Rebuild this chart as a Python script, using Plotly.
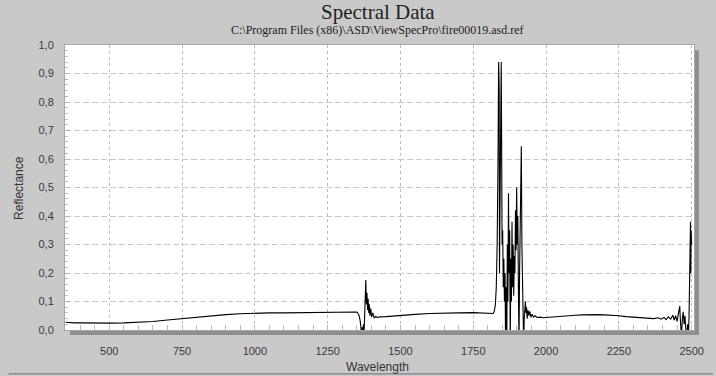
import plotly.graph_objects as go

# ---- data ----
wavelength = [
    350, 360, 380, 400, 450, 500, 550, 600, 650, 700, 750, 800, 850, 900, 950,
    1000, 1050, 1100, 1150, 1200, 1250, 1300, 1340, 1350,
    1352, 1358, 1362, 1365, 1367, 1369, 1371, 1373, 1375, 1377, 1379, 1381,
    1383, 1385, 1387, 1389, 1391, 1393, 1395, 1398, 1401, 1405, 1410, 1415,
    1420, 1430, 1450, 1500, 1550, 1600, 1650, 1700, 1750, 1800, 1815,
    1818, 1822, 1826, 1829, 1832, 1835, 1837, 1839, 1840, 1842, 1844, 1846,
    1847, 1849, 1851, 1853, 1855, 1857, 1859, 1861, 1863, 1865, 1867, 1869,
    1871, 1873, 1875, 1877, 1879, 1881, 1883, 1885, 1887, 1889, 1891, 1893,
    1895, 1897, 1899, 1901, 1903, 1905, 1907, 1909, 1911, 1913, 1915, 1917,
    1919, 1921, 1923, 1925, 1927, 1929, 1931, 1933, 1935, 1938, 1941, 1944,
    1948, 1952, 1957, 1962, 1970, 1980, 1990,
    2000, 2025, 2050, 2075, 2100, 2125, 2150, 2175, 2200, 2225, 2250, 2275,
    2300, 2325, 2350, 2370, 2385, 2395, 2405, 2412, 2420, 2428, 2435, 2440,
    2445, 2450, 2455, 2459, 2462, 2465, 2468, 2471, 2474, 2477, 2480, 2483,
    2486, 2489, 2491, 2493, 2495, 2496, 2497, 2498, 2499, 2500,
]
reflectance = [
    0.027, 0.026, 0.025, 0.025, 0.024, 0.024, 0.025, 0.027, 0.030, 0.035, 0.040,
    0.046, 0.050, 0.054, 0.057, 0.059, 0.060, 0.060, 0.061, 0.062, 0.062, 0.063,
    0.064, 0.063,
    0.062, 0.050, 0.030, 0.000, -0.02, 0.010, -0.02, 0.020, -0.01, 0.050, 0.120,
    0.175, 0.090, 0.130, 0.070, 0.110, 0.060, 0.090, 0.050, 0.075, 0.045, 0.060,
    0.042, 0.048, 0.044, 0.046, 0.047, 0.052, 0.055, 0.058, 0.060, 0.060, 0.061,
    0.060, 0.059,
    0.058, 0.065, 0.090, 0.150, 0.300, 0.600, 0.940, 0.850, 0.200, 0.500, 0.940,
    0.940, 0.750, 0.300, 0.350, 0.150, 0.250, 0.100, 0.200, -0.05, 0.150, -0.05,
    0.300, 0.100, 0.480, 0.200, 0.350, -0.05, 0.250, 0.100, 0.380, 0.150, 0.300,
    0.120, 0.260, 0.200, 0.420, 0.280, 0.500, 0.300, 0.400, 0.150, -0.05, 0.200,
    0.350, 0.500, 0.645, 0.300, 0.150, 0.050, -0.05, 0.040, 0.080, 0.100, 0.060,
    0.080, 0.040, 0.070, 0.050, 0.065, 0.045, 0.055, 0.045, 0.050, 0.044, 0.045,
    0.043,
    0.044, 0.046, 0.048, 0.050, 0.052, 0.053, 0.054, 0.054, 0.053, 0.052, 0.050,
    0.047, 0.045, 0.043, 0.042, 0.040, 0.043, 0.038, 0.044, 0.036, 0.046, 0.038,
    0.052, 0.035, 0.050, 0.030, 0.060, 0.084, 0.020, -0.02, 0.040, 0.064, 0.020,
    0.050, 0.000, -0.03, 0.020, -0.02, 0.050, 0.180, 0.250, 0.380, 0.200, 0.350,
    0.250, 0.300,
]
x_tick_values = [500, 750, 1000, 1250, 1500, 1750, 2000, 2250, 2500]
x_tick_labels = ["500", "750", "1000", "1250", "1500", "1750", "2000", "2250", "2500"]
y_tick_values = [0.0, 0.1, 0.2, 0.3, 0.4, 0.5, 0.6, 0.7, 0.8, 0.9, 1.0]
y_tick_labels = ["0,0", "0,1", "0,2", "0,3", "0,4", "0,5", "0,6", "0,7", "0,8", "0,9", "1,0"]

title_text = "Spectral Data"
subtitle_text = "C:\\Program Files (x86)\\ASD\\ViewSpecPro\\fire00019.asd.ref"

BG = "#c9c9c9"
GRID_H = "#d2c6c6"
GRID_V = "#c4b8b8"
SHADOW = "#8f8f8f"
TICKFONT = dict(family="Liberation Sans, Arial, sans-serif", size=11, color="#3a3a3a")

fig = go.Figure()
fig.add_trace(go.Scatter(
    x=wavelength, y=reflectance, mode="lines",
    line=dict(color="black", width=1.1), hoverinfo="skip", showlegend=False,
))

fig.update_layout(
    width=716, height=376,
    margin=dict(l=65, r=17, t=45, b=46),
    paper_bgcolor=BG, plot_bgcolor="white",
    showlegend=False,
    xaxis=dict(
        range=[348, 2508], tickvals=x_tick_values, ticktext=x_tick_labels,
        showgrid=True, gridcolor=GRID_V, griddash="3px,3px", gridwidth=1,
        zeroline=False, showline=True, linecolor="#a8a8a8", linewidth=1, mirror=True,
        ticks="inside", ticklen=5, tickcolor=GRID_V, tickfont=TICKFONT,
        ticklabelstandoff=11,
        minor=dict(dtick=50, tick0=0, ticks="inside", ticklen=5, tickcolor=GRID_V, showgrid=False),
    ),
    yaxis=dict(
        range=[0, 1.0], tickvals=y_tick_values, ticktext=y_tick_labels,
        showgrid=True, gridcolor=GRID_H, griddash="6px,3px", gridwidth=1,
        zeroline=False, showline=True, linecolor="#a8a8a8", linewidth=1, mirror=True,
        ticks="inside", ticklen=5, tickcolor=GRID_V, tickfont=TICKFONT,
        ticklabelstandoff=8,
        minor=dict(dtick=0.02, tick0=0, ticks="inside", ticklen=3, tickcolor=GRID_V, showgrid=False),
    ),
)

# drop shadow of the plot frame (right and bottom strips)
fig.add_shape(type="rect", xref="paper", yref="paper", x0=1.0, x1=1.0079, y0=-0.0175, y1=0.982,
              fillcolor=SHADOW, line=dict(width=0), layer="below")
fig.add_shape(type="rect", xref="paper", yref="paper", x0=0.0079, x1=1.0079, y0=-0.0175, y1=0.0,
              fillcolor=SHADOW, line=dict(width=0), layer="below")
# bottom frame line of the window
fig.add_shape(type="line", xref="paper", yref="paper", x0=-0.09, x1=1.03, y0=-0.154, y1=-0.154,
              line=dict(color="#6e6e6e", width=1))

fig.add_annotation(text=title_text, xref="paper", yref="paper", x=0.497, y=1.115,
                   xanchor="center", yanchor="middle", showarrow=False,
                   font=dict(family="Liberation Serif, Times New Roman, serif", size=21, color="#222222"))
fig.add_annotation(text=subtitle_text, xref="paper", yref="paper", x=0.497, y=1.053,
                   xanchor="center", yanchor="middle", showarrow=False,
                   font=dict(family="Liberation Serif, Times New Roman, serif", size=12, color="#222222"))
fig.add_annotation(text="Reflectance", xref="paper", yref="paper", x=-0.074, y=0.5,
                   xanchor="center", yanchor="middle", textangle=-90, showarrow=False,
                   font=dict(family="Liberation Sans, Arial, sans-serif", size=12, color="#333333"))
fig.add_annotation(text="Wavelength", xref="paper", yref="paper", x=0.497, y=-0.13,
                   xanchor="center", yanchor="middle", showarrow=False,
                   font=dict(family="Liberation Sans, Arial, sans-serif", size=12, color="#333333"))

fig.write_html("out.html")
